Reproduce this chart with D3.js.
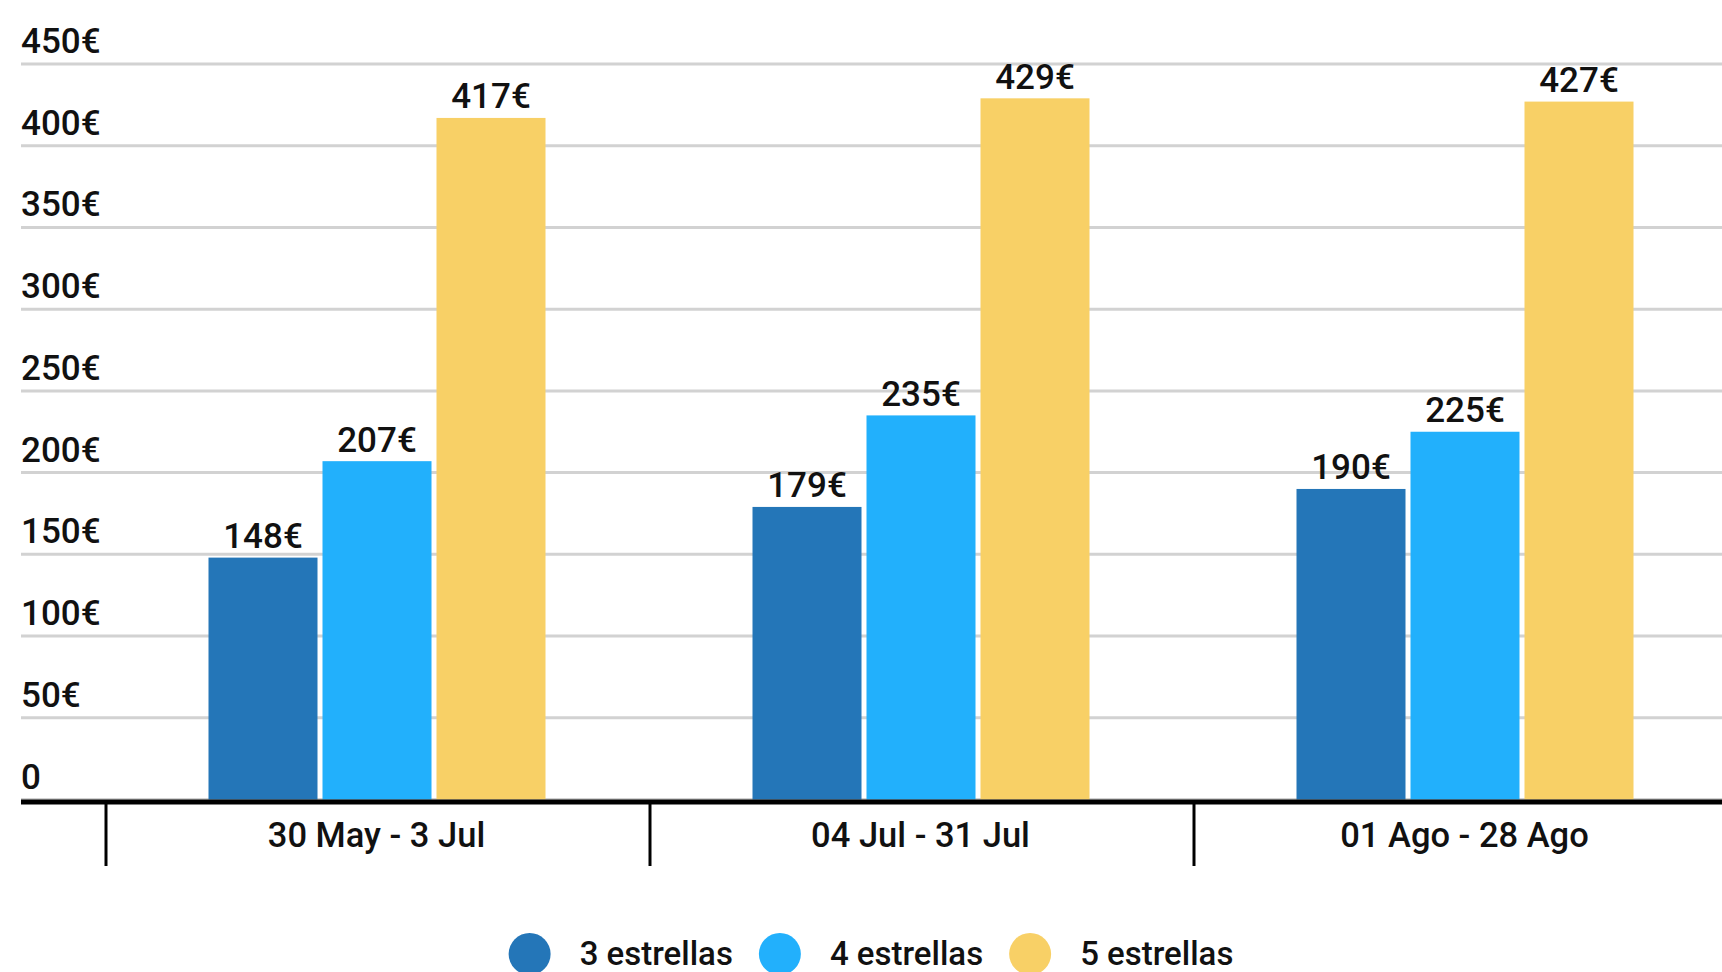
<!DOCTYPE html>
<html>
<head>
<meta charset="utf-8">
<script src="https://cdn.jsdelivr.net/npm/d3@7"></script>
<style>
  html, body { margin: 0; padding: 0; background: #fff; }
  svg { display: block; }
  text { font-family: Roboto, "Noto Sans", sans-serif; fill: #111; }
</style>
</head>
<body>
<svg id="chart" width="1722" height="972"></svg>
<script>
const categories = ["30 May - 3 Jul", "04 Jul - 31 Jul", "01 Ago - 28 Ago"];
const seriesNames = ["3 estrellas", "4 estrellas", "5 estrellas"];
const values3 = [148, 179, 190];
const values4 = [207, 235, 225];
const values5 = [417, 429, 427];
const yTicks = [0, 50, 100, 150, 200, 250, 300, 350, 400, 450];
const colors = ["#2476B8", "#22B0FC", "#F8D066"];

const seriesValues = [values3, values4, values5];
const data = categories.map((c, i) => ({
  cat: c,
  vals: seriesNames.map((s, j) => ({ key: s, value: seriesValues[j][i] }))
}));

const svg = d3.select("#chart");
const W = 1722, H = 972;
const plotLeft = 21, plotRight = W;

const y = d3.scaleLinear().domain([0, 450]).range([799.5, 64]);
const x0 = d3.scaleBand().domain(categories).range([106, 1738]).paddingInner(0).paddingOuter(0);
const x1 = d3.scaleBand().domain(seriesNames).range([102.5, 439.5]).paddingInner(5 / 114).paddingOuter(0);
const color = d3.scaleOrdinal().domain(seriesNames).range(colors);

// gridlines
svg.append("g").selectAll("line").data(yTicks).join("line")
  .attr("x1", plotLeft).attr("x2", plotRight)
  .attr("y1", d => y(d)).attr("y2", d => y(d))
  .attr("stroke", "#d2d2d2").attr("stroke-width", 3);

// y labels
svg.append("g").selectAll("text").data(yTicks).join("text")
  .attr("x", 21).attr("y", d => y(d) - 11)
  .attr("font-size", 35).attr("font-weight", 500)
  .text(d => d === 0 ? "0" : d + "€");

// bars
const groups = svg.append("g").selectAll("g").data(data).join("g")
  .attr("transform", d => `translate(${x0(d.cat)},0)`);
groups.selectAll("rect").data(d => d.vals).join("rect")
  .attr("x", d => x1(d.key)).attr("width", x1.bandwidth())
  .attr("y", d => y(d.value)).attr("height", d => y(0) - y(d.value))
  .attr("fill", d => color(d.key));
groups.selectAll("text").data(d => d.vals).join("text")
  .attr("x", d => x1(d.key) + x1.bandwidth() / 2)
  .attr("y", d => y(d.value) - 9.5)
  .attr("text-anchor", "middle")
  .attr("font-size", 35).attr("font-weight", 500)
  .text(d => d.value + "€");

// baseline
svg.append("line").attr("x1", plotLeft).attr("x2", plotRight)
  .attr("y1", 802).attr("y2", 802).attr("stroke", "#000").attr("stroke-width", 5);

// category ticks
svg.append("g").selectAll("line").data(categories).join("line")
  .attr("x1", d => x0(d)).attr("x2", d => x0(d))
  .attr("y1", 802).attr("y2", 866)
  .attr("stroke", "#000").attr("stroke-width", 3);

// category labels
svg.append("g").selectAll("text").data(categories).join("text")
  .attr("x", d => x0(d) + x0.bandwidth() / 2 - 1.5)
  .attr("y", 847)
  .attr("text-anchor", "middle")
  .attr("font-size", 34.5).attr("font-weight", 500)
  .text(d => d);

// legend
const legend = svg.append("g");
const items = legend.selectAll("g").data(seriesNames).join("g");
items.append("circle").attr("r", 21).attr("cx", 21).attr("cy", 954).attr("fill", d => color(d));
items.append("text").attr("x", 71).attr("y", 965)
  .attr("font-size", 33).attr("font-weight", 500)
  .text(d => d);
let xpos = 0;
const offsets = [];
items.each(function () {
  const tw = d3.select(this).select("text").node().getComputedTextLength();
  offsets.push(xpos);
  xpos += 71 + tw + 26;
});
const totalW = xpos - 26;
const startX = 871 - totalW / 2;
items.attr("transform", (d, i) => `translate(${startX + offsets[i]},0)`);
</script>
</body>
</html>
